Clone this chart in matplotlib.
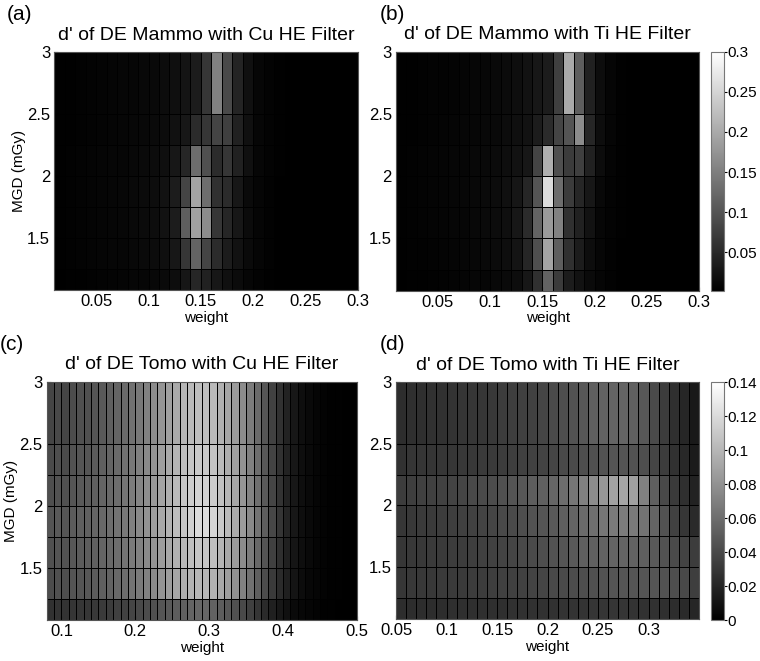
import numpy as np
import matplotlib
matplotlib.use('Agg')
import matplotlib.pyplot as plt

plt.rcParams['font.family'] = ['Liberation Sans', 'DejaVu Sans']

# dose grid (mGy), shared by all panels (cell edges)
mgd_edges = [1.08, 1.25, 1.5, 1.75, 2.0, 2.25, 2.5, 3.0]

# weight grids (cell edges)
w_mammo = [0.01, 0.02, 0.03, 0.04, 0.05, 0.06, 0.07, 0.08, 0.09, 0.10,
           0.11, 0.12, 0.13, 0.14, 0.15, 0.16, 0.17, 0.18, 0.19, 0.20,
           0.21, 0.22, 0.23, 0.24, 0.25, 0.26, 0.27, 0.28, 0.29, 0.30]
w_tomo_cu = [0.08, 0.09, 0.10, 0.11, 0.12, 0.13, 0.14, 0.15, 0.16, 0.17,
             0.18, 0.19, 0.20, 0.21, 0.22, 0.23, 0.24, 0.25, 0.26, 0.27,
             0.28, 0.29, 0.30, 0.31, 0.32, 0.33, 0.34, 0.35, 0.36, 0.37,
             0.38, 0.39, 0.40, 0.41, 0.42, 0.43, 0.44, 0.45, 0.46, 0.47,
             0.48, 0.49, 0.50]
w_tomo_ti = [0.05, 0.06, 0.07, 0.08, 0.09, 0.10, 0.11, 0.12, 0.13, 0.14,
             0.15, 0.16, 0.17, 0.18, 0.19, 0.20, 0.21, 0.22, 0.23, 0.24,
             0.25, 0.26, 0.27, 0.28, 0.29, 0.30, 0.31, 0.32, 0.33, 0.34,
             0.35]

# d' values x1000, rows from lowest dose (bottom) to highest (top)
dp_mammo_cu = [
    [3, 4, 4, 5, 6, 7, 8, 9, 10, 12, 14, 18, 28, 47, 41, 29, 21, 15, 10, 6, 4, 3, 2, 2, 2, 2, 2, 2, 2],
    [4, 5, 6, 7, 8, 9, 10, 12, 14, 16, 20, 29, 65, 118, 82, 53, 35, 24, 14, 8, 5, 3, 3, 2, 2, 2, 2, 2, 2],
    [4, 5, 6, 7, 8, 10, 11, 13, 15, 18, 23, 35, 112, 190, 165, 65, 47, 29, 15, 8, 5, 3, 3, 2, 2, 2, 2, 2, 2],
    [4, 5, 6, 7, 8, 10, 11, 13, 15, 18, 23, 35, 82, 194, 129, 59, 53, 29, 14, 8, 5, 3, 3, 2, 2, 2, 2, 2, 2],
    [4, 5, 6, 7, 8, 9, 10, 12, 14, 16, 20, 29, 47, 129, 94, 53, 65, 41, 21, 10, 6, 4, 3, 2, 2, 2, 2, 2, 2],
    [4, 4, 5, 6, 7, 8, 9, 11, 12, 14, 17, 22, 29, 53, 65, 82, 76, 41, 21, 10, 6, 4, 3, 2, 2, 2, 2, 2, 2],
    [4, 4, 5, 6, 7, 8, 9, 10, 12, 13, 16, 20, 26, 35, 65, 153, 88, 45, 21, 10, 6, 4, 3, 2, 2, 2, 2, 2, 2],
]
dp_mammo_ti = [
    [3, 4, 4, 5, 6, 7, 8, 9, 10, 12, 14, 18, 29, 59, 118, 71, 35, 24, 14, 8, 5, 3, 2, 2, 2, 2, 2, 2, 2],
    [4, 5, 5, 6, 7, 8, 10, 11, 13, 15, 19, 26, 47, 94, 194, 112, 59, 35, 18, 9, 5, 3, 3, 2, 2, 2, 2, 2, 2],
    [4, 5, 6, 7, 8, 9, 10, 12, 14, 16, 20, 29, 53, 118, 182, 153, 59, 41, 24, 10, 6, 4, 3, 2, 2, 2, 2, 2, 2],
    [4, 5, 6, 7, 8, 9, 11, 12, 14, 17, 21, 28, 47, 100, 259, 129, 71, 47, 29, 12, 6, 4, 3, 2, 2, 2, 2, 2, 2],
    [4, 5, 6, 7, 8, 9, 10, 12, 13, 15, 19, 24, 29, 82, 206, 94, 71, 76, 41, 16, 7, 4, 3, 2, 2, 2, 2, 2, 2],
    [4, 4, 5, 6, 7, 8, 9, 10, 12, 13, 16, 20, 24, 35, 53, 82, 100, 165, 47, 18, 8, 4, 3, 2, 2, 2, 2, 2, 2],
    [4, 4, 5, 6, 6, 7, 8, 10, 11, 13, 15, 19, 23, 29, 35, 76, 200, 112, 41, 18, 8, 4, 3, 2, 2, 2, 2, 2, 2],
]
dp_tomo_cu = [
    [27, 28, 28, 29, 30, 30, 31, 32, 33, 35, 36, 38, 40, 42, 44, 47, 49, 51, 53, 55, 56, 56, 54, 51, 48, 44, 40, 35, 29, 23, 18, 13, 9, 6, 4, 3, 2, 1, 1, 0, 0, 0],
    [42, 44, 43, 46, 47, 48, 50, 52, 54, 57, 60, 63, 67, 71, 76, 81, 86, 91, 95, 98, 100, 100, 97, 92, 86, 79, 71, 62, 52, 42, 32, 24, 17, 11, 7, 4, 3, 2, 1, 1, 0, 0],
    [44, 46, 45, 48, 50, 51, 53, 55, 57, 60, 63, 67, 71, 76, 81, 86, 92, 97, 101, 105, 108, 108, 105, 99, 92, 85, 77, 68, 57, 46, 35, 26, 18, 12, 8, 5, 3, 2, 1, 1, 0, 0],
    [46, 49, 47, 50, 52, 53, 55, 57, 60, 63, 66, 70, 75, 80, 86, 92, 98, 104, 108, 114, 120, 121, 117, 110, 102, 94, 85, 75, 63, 51, 39, 29, 20, 13, 8, 5, 3, 2, 1, 1, 0, 0],
    [43, 45, 44, 47, 49, 50, 52, 55, 57, 60, 64, 68, 73, 78, 84, 90, 96, 102, 108, 112, 115, 115, 112, 106, 99, 91, 82, 72, 61, 49, 38, 28, 19, 13, 8, 5, 3, 2, 1, 1, 0, 0],
    [41, 43, 41, 45, 47, 47, 50, 52, 55, 58, 62, 66, 70, 75, 81, 87, 93, 99, 104, 108, 110, 110, 107, 102, 95, 88, 80, 70, 60, 48, 37, 27, 19, 13, 8, 5, 3, 2, 1, 1, 0, 0],
    [38, 40, 38, 42, 44, 44, 47, 49, 52, 55, 58, 62, 66, 71, 77, 82, 88, 93, 99, 102, 104, 104, 102, 97, 91, 85, 77, 68, 58, 47, 36, 27, 19, 13, 8, 5, 3, 2, 1, 1, 0, 0],
]
dp_tomo_ti = [
    [25, 25, 25, 25, 25, 26, 26, 26, 26, 26, 26, 27, 27, 27, 27, 27, 28, 28, 28, 29, 29, 29, 29, 28, 27, 27, 26, 25, 23, 21],
    [30, 31, 31, 31, 32, 32, 32, 33, 33, 34, 35, 35, 36, 37, 38, 40, 41, 42, 43, 44, 45, 46, 47, 47, 47, 47, 45, 43, 40, 34],
    [30, 31, 31, 32, 32, 33, 33, 34, 35, 36, 37, 38, 40, 41, 43, 45, 47, 49, 52, 53, 54, 55, 55, 54, 52, 49, 45, 41, 37, 33],
    [30, 31, 32, 32, 33, 34, 35, 36, 37, 38, 40, 41, 43, 45, 47, 49, 52, 55, 58, 61, 65, 67, 68, 67, 63, 55, 45, 36, 30, 23],
    [33, 34, 35, 35, 36, 37, 38, 40, 41, 42, 44, 46, 48, 51, 53, 56, 60, 65, 70, 77, 83, 89, 91, 88, 71, 52, 40, 32, 26, 19],
    [27, 29, 29, 29, 30, 30, 31, 31, 32, 32, 33, 34, 35, 36, 37, 38, 40, 41, 43, 44, 45, 46, 46, 45, 43, 38, 33, 27, 22, 15],
    [25, 26, 26, 27, 27, 28, 29, 30, 30, 31, 33, 34, 35, 36, 38, 41, 43, 45, 48, 52, 54, 55, 55, 53, 48, 41, 33, 26, 21, 14],
]

fig = plt.figure(figsize=(7.6, 6.61), dpi=100)

panels = [
    ('(a)', "d' of DE Mammo with Cu HE Filter", w_mammo, dp_mammo_cu, (0.002, 0.3),
     [0.0714, 0.5613, 0.3996, 0.3600], [0.05, 0.1, 0.15, 0.2, 0.25, 0.3], True),
    ('(b)', "d' of DE Mammo with Ti HE Filter", w_mammo, dp_mammo_ti, (0.002, 0.3),
     [0.5211, 0.5600, 0.3990, 0.3620], [0.05, 0.1, 0.15, 0.2, 0.25, 0.3], False),
    ('(c)', "d' of DE Tomo with Cu HE Filter", w_tomo_cu, dp_tomo_cu, (0.0, 0.14),
     [0.0614, 0.0620, 0.4083, 0.3605], [0.1, 0.2, 0.3, 0.4, 0.5], True),
    ('(d)', "d' of DE Tomo with Ti HE Filter", w_tomo_ti, dp_tomo_ti, (0.0, 0.14),
     [0.5211, 0.0635, 0.3987, 0.3585], [0.05, 0.1, 0.15, 0.2, 0.25, 0.3], False),
]

meshes = []
for letter, title, w, dp, clim, pos, xt, ylab in panels:
    ax = fig.add_axes(pos)
    vals = np.array(dp) / 1000.0
    m = ax.pcolormesh(w, mgd_edges, vals, cmap='gray', vmin=clim[0], vmax=clim[1],
                      edgecolors='k', linewidth=0.6)
    meshes.append(m)
    ax.set_xlim(w[0], w[-1])
    ax.set_ylim(mgd_edges[0], mgd_edges[-1])
    ax.set_xticks(xt)
    ax.set_xticklabels(['%g' % t for t in xt])
    ax.set_yticks([1.5, 2, 2.5, 3])
    ax.set_yticklabels(['1.5', '2', '2.5', '3'])
    ax.tick_params(direction='in', length=3, labelsize=12, pad=3)
    for s in ax.spines.values():
        s.set_color('#555555')
        s.set_linewidth(0.8)
    ax.set_title(title, fontsize=14, pad=9)
    ax.set_xlabel('weight', fontsize=11, labelpad=1)
    if ylab:
        ax.set_ylabel('MGD (mGy)', fontsize=11, labelpad=1)
    fig.text(pos[0] - 0.062 if ylab else pos[0] - 0.022, pos[1] + pos[3] + 0.071, letter,
             fontsize=15, va='top', ha='left')

cax_top = fig.add_axes([0.9355, 0.5600, 0.0165, 0.3620])
cb1 = fig.colorbar(meshes[1], cax=cax_top, ticks=[0.05, 0.1, 0.15, 0.2, 0.25, 0.3])
cb1.ax.set_yticklabels(['0.05', '0.1', '0.15', '0.2', '0.25', '0.3'])

cax_bot = fig.add_axes([0.9355, 0.0620, 0.0165, 0.3600])
cb2 = fig.colorbar(meshes[3], cax=cax_bot, ticks=[0, 0.02, 0.04, 0.06, 0.08, 0.1, 0.12, 0.14])
cb2.ax.set_yticklabels(['0', '0.02', '0.04', '0.06', '0.08', '0.1', '0.12', '0.14'])

for cb in (cb1, cb2):
    cb.outline.set_edgecolor('#777777')
    cb.outline.set_linewidth(0.8)
    cb.ax.tick_params(labelsize=11, length=2, pad=1)

fig.savefig('out.png', dpi=100)
